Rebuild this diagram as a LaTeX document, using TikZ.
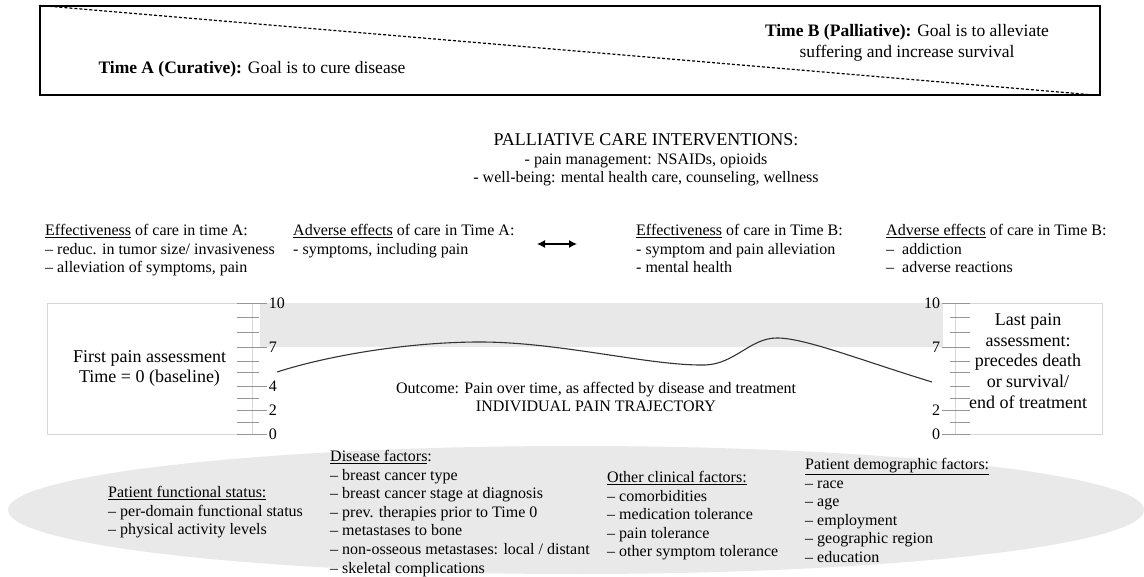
\documentclass[tikz,border=0pt]{standalone}
\usepackage{fontspec}
\setmainfont{Liberation Serif}
\usetikzlibrary{arrows.meta}
\definecolor{bandgrey}{RGB}{232, 232, 232}
\definecolor{boxgrey}{RGB}{214, 214, 214}
\definecolor{tickgrey}{RGB}{150, 150, 150}
\definecolor{cloudgrey}{RGB}{233, 233, 233}
\definecolor{curvegrey}{RGB}{51, 51, 51}
\newcommand{\bodysize}{\fontsize{16}{18.6}\selectfont}
\newcommand{\labelsize}{\fontsize{18}{20.6}\selectfont}
\newcommand{\phasesize}{\fontsize{17.5}{21}\selectfont}

\begin{document}
\begin{tikzpicture}[x=1pt, y=-1pt,
        block/.style={font=\bodysize, inner sep=0pt, align=left, anchor=north west},
        tick/.style={draw=tickgrey, line width=0.8pt},
        axisnum/.style={font=\bodysize, inner sep=1.5pt}]
    \useasboundingbox (0,0) rectangle (1144,577);
    \node[draw, line width=1.1pt, minimum width=1060pt, minimum height=89pt, inner sep=0pt] (phases) at (570,50.5) {};
    \draw[line width=1.2pt, dash pattern=on 3pt off 2pt] (phases.north west) -- (phases.south east);
    \node[font=\phasesize, anchor=west]  (timeA) at (95,69)  {\textbf{Time A (Curative):} Goal is to cure disease};
    \node[font=\phasesize, align=center] (timeB) at (907,43) {\textbf{Time B (Palliative):} Goal is to alleviate\\suffering and increase survival};

    \node[font=\bodysize, align=center, anchor=north] (palliative) at (646,130)
        {{\fontsize{18}{21}\selectfont PALLIATIVE CARE INTERVENTIONS:}\\- pain management: NSAIDs, opioids\\- well-being: mental health care, counseling, wellness};

    \node[block] (effA) at (45,224)  {\underline{Effectiveness} of care in time A:\\– reduc. in tumor size/ invasiveness\\– alleviation of symptoms, pain};
    \node[block] (advA) at (293,224) {\underline{Adverse effects} of care in Time A:\\- symptoms, including pain};
    \node[block] (effB) at (636,224) {\underline{Effectiveness} of care in Time B:\\- symptom and pain alleviation\\- mental health};
    \node[block] (advB) at (886,224) {\underline{Adverse effects} of care in Time B:\\–\ \ addiction\\–\ \ adverse reactions};
    \coordinate (leftend)  at (537,244);
    \coordinate (rightend) at (577,244);
    \draw[{Latex[length=8pt,width=8pt]}-{Latex[length=8pt,width=8pt]}, line width=1.3pt] (leftend) -- (rightend);

    \fill[bandgrey] (260,303) rectangle (943,347);
    \node[draw=boxgrey, line width=0.8pt, minimum width=205pt, minimum height=131pt, font=\labelsize, align=center] (firstbox) at (149.5,368.5)
        {First pain assessment\\Time = 0 (baseline)};
    \node[draw=boxgrey, line width=0.8pt, minimum width=147pt, minimum height=131pt] (lastbox) at (1028.5,368.5) {};
    \node[font=\labelsize, align=center] (lastlabel) at (1028,361) {Last pain\\assessment:\\precedes death\\or survival/\\end of treatment};
    \foreach \ty in {317,332,361,372,398,422} {
        \draw[tick] (237,\ty) -- (259,\ty);
        \draw[tick] (950,\ty) -- (970,\ty);
    }
    \draw[tick] (950,386) -- (970,386);
    \foreach \ty/\tv in {303/10,347/7,386/4,410/2,434/0}
        \draw[tick] (237,\ty) -- (267,\ty) node[axisnum, anchor=west] (lnum\tv) {\tv};
    \foreach \ty/\tv in {303/10,347/7,410/2,434/0}
        \draw[tick] (970,\ty) -- (942,\ty) node[axisnum, anchor=east] (rnum\tv) {\tv};
    \draw[curvegrey, line width=1.1pt] (277,372) .. controls (330,355) and (410,342) .. (480,342)
        .. controls (560,342) and (650,366) .. (705,365)
        .. controls (735,364) and (750,338) .. (777,338)
        .. controls (805,338) and (860,360) .. (932,382);
    \node[font=\bodysize, align=center] (outcome) at (596,397)
        {Outcome: Pain over time, as affected by disease and treatment\\INDIVIDUAL PAIN TRAJECTORY};

    \fill[cloudgrey] (576,510) ellipse (568 and 64);
    \node[block] (functional) at (108,486) {\underline{Patient functional status:}\\– per-domain functional status\\– physical activity levels};
    \node[block] (disease)    at (330,450) {\underline{Disease factors}:\\– breast cancer type\\– breast cancer stage at diagnosis\\– prev. therapies prior to Time 0\\– metastases to bone\\– non-osseous metastases: local / distant\\– skeletal complications};
    \node[block] (clinical)   at (607,471) {\underline{Other clinical factors:}\\– comorbidities\\– medication tolerance\\– pain tolerance\\– other symptom tolerance};
    \node[block] (demographic) at (805,458) {\underline{Patient demographic factors:}\\– race\\– age\\– employment\\– geographic region\\– education};
\end{tikzpicture}
\end{document}
